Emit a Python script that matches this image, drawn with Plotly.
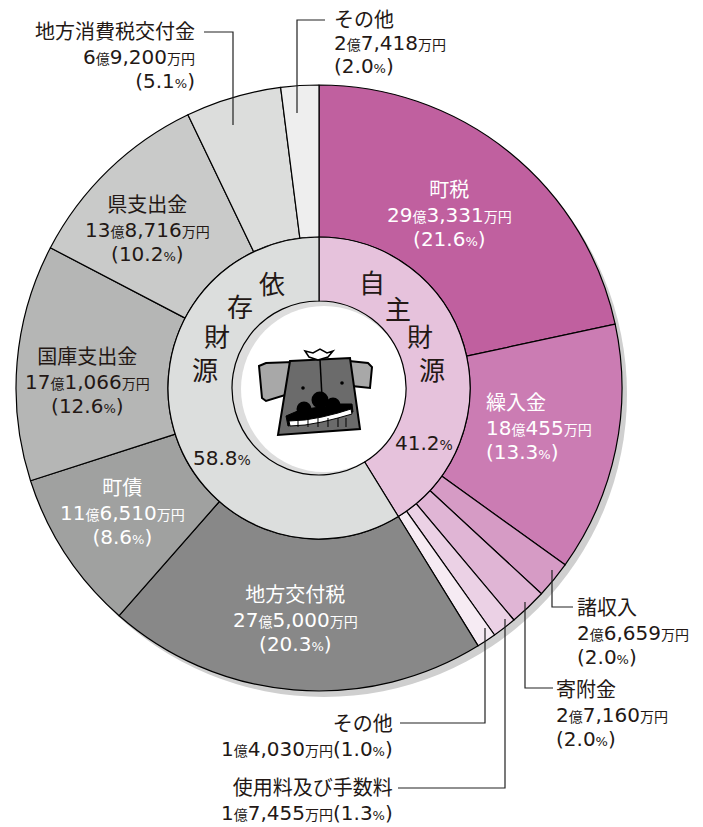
import plotly.graph_objects as go

W, H = 703, 827
OFF = 8                      # default page margin of the html body
FW, FH = W - OFF, H - OFF    # figure size so that figure + margin == window

# ---------------- data ----------------
outer_labels = ["町税", "繰入金", "諸収入", "寄附金", "使用料及び手数料", "その他",
                "地方交付税", "町債", "国庫支出金", "県支出金", "地方消費税交付金", "その他"]
outer_values = [293331, 180455, 26659, 27160, 17455, 14030,
                275000, 116510, 171066, 138716, 69200, 27418]   # 万円
outer_amounts = ["29億3,331万円", "18億455万円", "2億6,659万円", "2億7,160万円",
                 "1億7,455万円", "1億4,030万円", "27億5,000万円", "11億6,510万円",
                 "17億1,066万円", "13億8,716万円", "6億9,200万円", "2億7,418万円"]
outer_pcts = ["21.6", "13.3", "2.0", "2.0", "1.3", "1.0",
              "20.3", "8.6", "12.6", "10.2", "5.1", "2.0"]
outer_colors = ["#C0609F", "#CB7CB3", "#D69BC5", "#E0B5D5", "#EBD1E5", "#F6EBF3",
                "#888888", "#A0A1A0", "#B5B6B5", "#C9CAC9", "#DCDDDC", "#EEEEEE"]

inner_labels = ["自主財源", "依存財源"]
inner_pcts = ["41.2", "58.8"]
inner_values = [sum(outer_values[:6]), sum(outer_values[6:])]
inner_colors = ["#E6C2DC", "#DCDEDD"]

# ---------------- geometry (window pixels) ----------------
CX, CY = 319, 388
R_OUT, R_MID, R_IN = 303, 151, 87
FONT = "DejaVu Sans, Noto Sans CJK JP"
CJK = "Noto Sans CJK JP"
DARK = "#231815"


def px(x):
    return (x - OFF) / FW


def py(y):
    return 1 - (y - OFF) / FH


def sz(s, size):
    return f"<span style='font-size:{size}px'>{s}</span>"


def fmt_amount(s):
    return s.replace("億", sz("億", 14)).replace("万円", sz("万円", 14))


def fmt_pct(p):
    return f"({p}{sz('%', 13)})"


fig = go.Figure()

fig.add_trace(go.Pie(
    values=outer_values, labels=[f"{l}{i}" for i, l in enumerate(outer_labels)],
    sort=False, direction="clockwise", rotation=0, hole=R_MID / R_OUT,
    marker=dict(colors=outer_colors, line=dict(color="#000000", width=1.2)),
    textinfo="none", hoverinfo="skip",
    domain=dict(x=[px(CX - R_OUT), px(CX + R_OUT)], y=[py(CY + R_OUT), py(CY - R_OUT)]),
))
fig.add_trace(go.Pie(
    values=inner_values, labels=inner_labels,
    sort=False, direction="clockwise", rotation=0, hole=R_IN / R_MID,
    marker=dict(colors=inner_colors, line=dict(color="#000000", width=1.2)),
    textinfo="none", hoverinfo="skip",
    domain=dict(x=[px(CX - R_MID), px(CX + R_MID)], y=[py(CY + R_MID), py(CY - R_MID)]),
))

shapes = []


def circle(cx, cy, r, fill, line_w=0, line_c="#000", layer="below"):
    shapes.append(dict(type="circle", xref="paper", yref="paper",
                       x0=px(cx - r), x1=px(cx + r), y0=py(cy + r), y1=py(cy - r),
                       fillcolor=fill, line=dict(width=line_w, color=line_c), layer=layer))


def path(pts, fill=None, w=1.2, close=True, layer="above", color="#000"):
    d = "M " + " L ".join(f"{px(x):.5f},{py(y):.5f}" for x, y in pts)
    if close:
        d += " Z"
    s = dict(type="path", xref="paper", yref="paper", path=d,
             line=dict(color=color, width=w), layer=layer)
    if fill:
        s["fillcolor"] = fill
    shapes.append(s)


# drop shadow of the outer ring
circle(CX + 5, CY + 6, R_OUT, "#CFCFCF")
# inner hole with slight inner shadow
circle(CX, CY, R_IN, "#DDDDDD")
circle(CX + 5, CY + 1, R_IN - 4, "#FFFFFF")

# ---------------- cow illustration ----------------
path([(259, 366), (266, 363), (293, 362), (295, 392), (266, 401), (262, 398)], fill="#A8A8A8", w=2)
path([(349, 361), (368, 363), (372, 367), (370, 388), (352, 386)], fill="#A8A8A8", w=2)
path([(290, 361), (350, 358), (360, 429), (278, 435)], fill="#6B6B6B", w=2)
path([(305, 351), (309, 357), (318, 360), (328, 357), (333, 351), (327, 353), (320, 349),
      (313, 353)], fill="#FFFFFF", w=1.5)
path([(320, 360), (322, 397)], close=False, w=1.5)
circle(303, 388, 1.8, "#000", layer="above")
circle(342, 383, 1.8, "#000", layer="above")
# mouth: black cavity, nostril blobs, white smile of teeth
path([(286, 416), (300, 410), (340, 404), (352, 404), (353, 412), (320, 420), (288, 426)],
     fill="#000000", w=1)
circle(320, 400, 8.5, "#000", layer="above")
circle(304, 409, 7.5, "#000", layer="above")
circle(333, 405, 7.5, "#000", layer="above")
path([(289, 421), (305, 420), (322, 417), (338, 413), (351, 409), (352, 414), (338, 418),
      (322, 422), (305, 425), (290, 426)], fill="#FFFFFF", w=1)
for tx in [298, 308, 318, 328, 338, 346]:
    path([(tx, 418), (tx, 427)], close=False, w=1)

# ---------------- leader lines ----------------
leaders = [
    [(204, 32), (233, 32), (233, 125)],            # 地方消費税交付金
    [(325, 20), (297, 20), (297, 113)],            # その他 (top)
    [(552, 570), (552, 607), (573, 607)],          # 諸収入
    [(525, 602), (525, 688), (553, 688)],          # 寄附金
    [(505, 619), (505, 788), (398, 788)],          # 使用料及び手数料
    [(485, 628), (485, 723), (400, 723)],          # その他 (bottom)
]
for pts in leaders:
    path(pts, close=False, w=1.2, color="#222")

annotations = []


def text(s, x, y, size=20, color=DARK, anchor="center", family=FONT):
    annotations.append(dict(text=s, x=px(x), y=py(y), xref="paper", yref="paper",
                            xanchor=anchor, yanchor="middle", align=anchor if anchor != "center" else "center",
                            showarrow=False, borderpad=0,
                            font=dict(family=family, size=size, color=color)))


def block(lines, x, y_mid, color=DARK, anchor="center", base=19):
    """multi-line label; base size sets the line spacing (1.3 * base)."""
    s = "<br>".join(sz(l, 20) for l in lines)
    text(s, x, y_mid, size=base, color=color, anchor=anchor)


def label(i, x, y0, color=DARK, anchor="center", base=19):
    gap = 1.3 * base
    block([outer_labels[i], fmt_amount(outer_amounts[i]), fmt_pct(outer_pcts[i])],
          x, y0 + gap, color=color, anchor=anchor, base=base)


WHITE = "#FFFFFF"
label(0, 449, 190, color=WHITE)
label(1, 485, 403, color=WHITE, anchor="left")
label(2, 576, 608, anchor="left")
label(3, 555, 690, anchor="left")
label(6, 295, 595, color=WHITE)
label(7, 122, 488, color=WHITE)
label(8, 87, 357)
label(9, 147, 205)
label(10, 196, 32, anchor="right")
label(11, 333, 20, anchor="left", base=17.7)
# bottom two small segments: two-line labels
block([outer_labels[4], fmt_amount(outer_amounts[4]) + fmt_pct(outer_pcts[4])],
      394, 800.5, anchor="right")
block([outer_labels[5], fmt_amount(outer_amounts[5]) + fmt_pct(outer_pcts[5])],
      394, 736.5, anchor="right")

# inner ring labels (diagonal characters)
for ch, (x, y) in zip(inner_labels[0], [(372, 282), (398, 307), (420, 335), (432, 368)]):
    text(ch, x, y, size=26, family=CJK)
for ch, (x, y) in zip(inner_labels[1], [(272, 283), (240, 305), (217, 335), (205, 368)]):
    text(ch, x, y, size=26, family=CJK)
text(inner_pcts[0] + sz("%", 14), 424, 443, size=20)
text(inner_pcts[1] + sz("%", 14), 222, 458, size=20)

fig.update_layout(
    width=FW, height=FH, margin=dict(l=0, r=0, t=0, b=0),
    paper_bgcolor="#FFFFFF", plot_bgcolor="#FFFFFF",
    showlegend=False, shapes=shapes, annotations=annotations,
    font=dict(family=FONT),
)

fig.write_html("out.html")
